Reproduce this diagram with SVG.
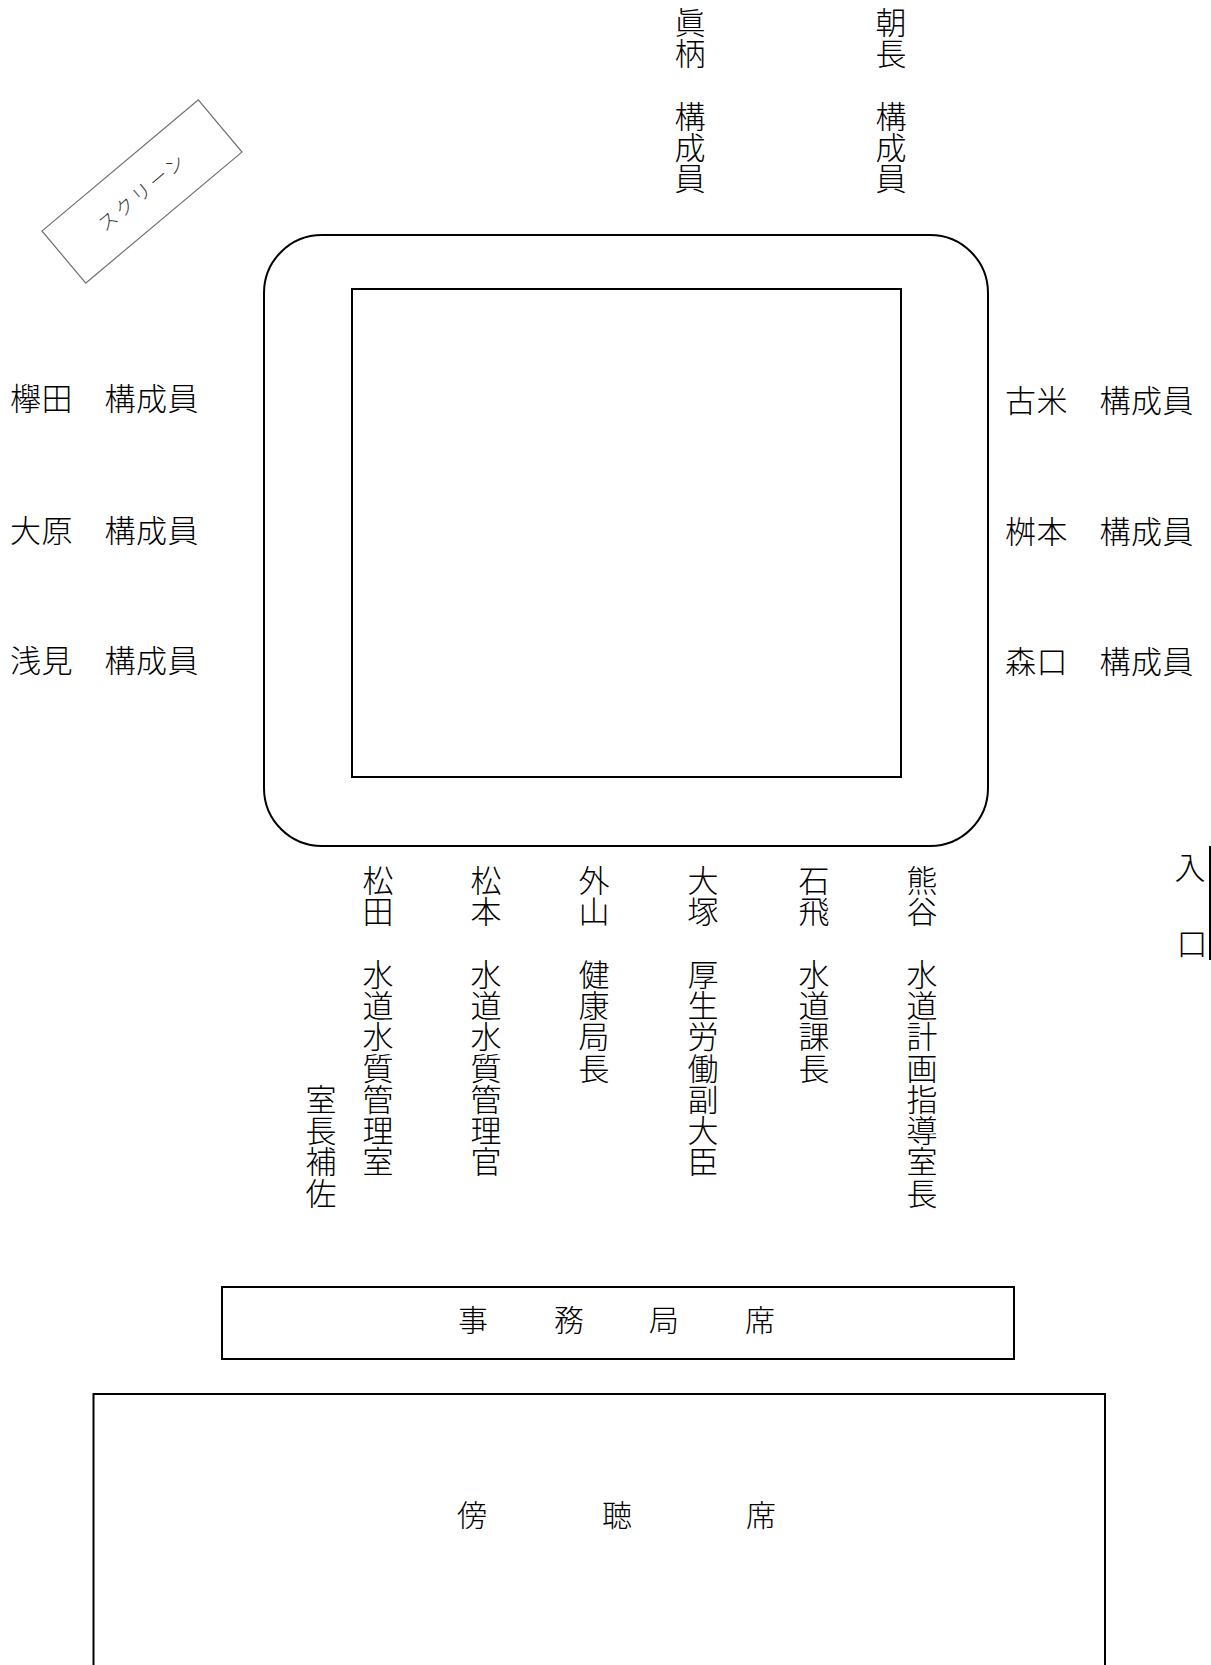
<svg xmlns="http://www.w3.org/2000/svg" width="1211" height="1665" viewBox="0 0 1211 1665">
<style>
.t{font-family:"Noto Sans CJK JP","Noto Sans CJK SC",sans-serif;font-size:31px;fill:#000;font-weight:300;}
.h{letter-spacing:0.5px;}
.v{writing-mode:vertical-rl;letter-spacing:0.3px;}
.c{text-anchor:middle;font-size:30px;}
.ln{fill:none;stroke:#000;stroke-width:2;}
</style>
<rect width="1211" height="1665" fill="#fff"/>
<g id="screen">
<rect x="40" y="157.5" width="204" height="68" transform="rotate(-40 142 191.5)" fill="none" stroke="#707070" stroke-width="1.2"/>
<text x="142" y="199" transform="rotate(-40 142 191.5)" style="font-family:'Noto Sans CJK JP',sans-serif;font-size:19px;font-weight:300;fill:#333;text-anchor:middle;letter-spacing:3px">スクリーン</text>
</g>
<g id="table">
<rect class="ln" x="264" y="235" width="724" height="611" rx="58" ry="58"/>
<rect class="ln" x="352" y="289" width="549" height="488"/>
</g>
<g id="top-members">
<text class="t v" x="690" y="6.5">眞柄　構成員</text>
<text class="t v" x="891" y="6.5">朝長　構成員</text>
</g>
<g id="left-members">
<text class="t h" x="10" y="410">欅田　構成員</text>
<text class="t h" x="10" y="542">大原　構成員</text>
<text class="t h" x="10" y="672">浅見　構成員</text>
</g>
<g id="right-members">
<text class="t h" x="1005" y="412">古米　構成員</text>
<text class="t h" x="1005" y="543">桝本　構成員</text>
<text class="t h" x="1005" y="673">森口　構成員</text>
</g>
<g id="ministry">
<text class="t v" x="321" y="1083.5">室長補佐</text>
<text class="t v" x="378" y="864.5">松田　水道水質管理室</text>
<text class="t v" x="486" y="864.5">松本　水道水質管理官</text>
<text class="t v" x="594" y="864.5">外山　健康局長</text>
<text class="t v" x="703" y="864.5">大塚　厚生労働副大臣</text>
<text class="t v" x="814" y="864.5">石飛　水道課長</text>
<text class="t v" x="922" y="864.5">熊谷　水道計画指導室長</text>
</g>
<g id="entrance">
<line class="ln" x1="1210" y1="846" x2="1210" y2="960"/>
<text class="t" x="1190" y="879" text-anchor="middle">入</text>
<text class="t" x="1192" y="955" text-anchor="middle">口</text>
</g>
<g id="secretariat">
<rect class="ln" x="222" y="1287" width="792" height="72"/>
<text class="t c" x="473" y="1331">事</text>
<text class="t c" x="569" y="1331">務</text>
<text class="t c" x="664" y="1331">局</text>
<text class="t c" x="760" y="1331">席</text>
</g>
<g id="gallery">
<rect class="ln" x="93.5" y="1394" width="1011.5" height="320"/>
<text class="t c" x="472" y="1526">傍</text>
<text class="t c" x="617" y="1526">聴</text>
<text class="t c" x="761" y="1526">席</text>
</g>
<g id="connectors"></g>
</svg>
